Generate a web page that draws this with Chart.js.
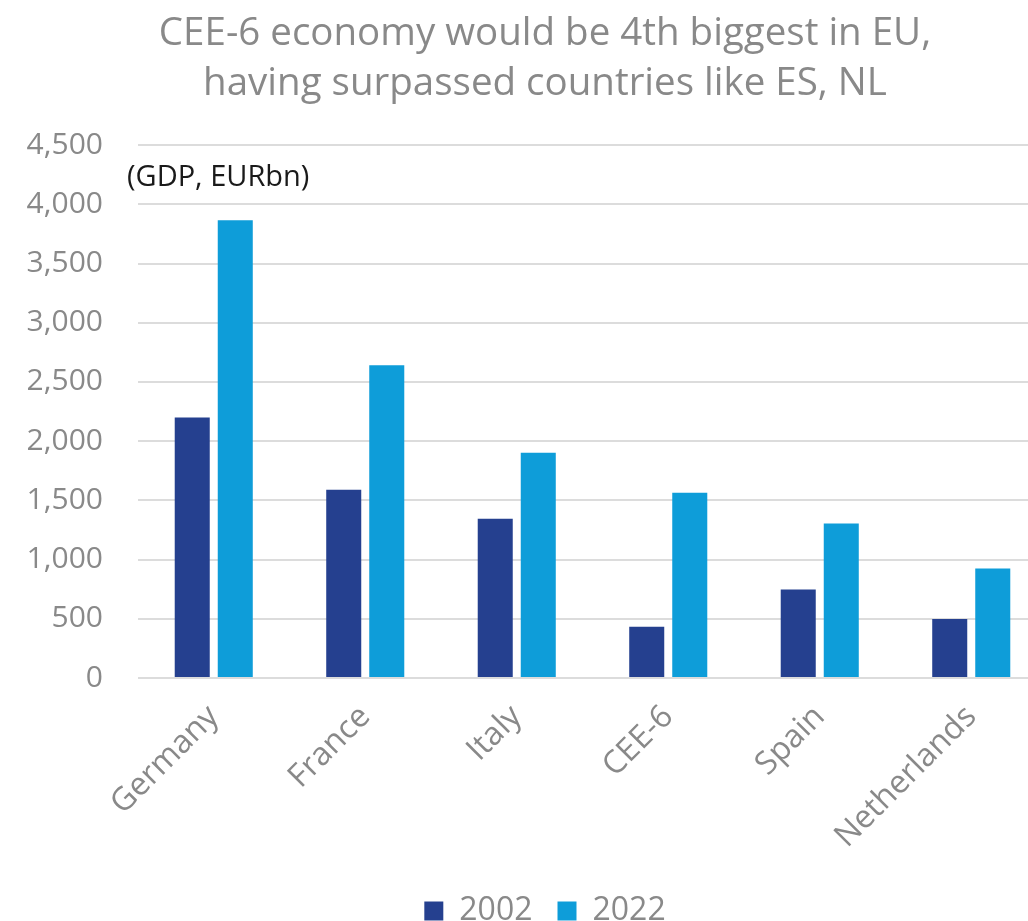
<!DOCTYPE html>
<html>
<head>
<meta charset="utf-8">
<script src="https://cdn.jsdelivr.net/npm/chart.js@4.4.1/dist/chart.umd.min.js"></script>
<style>
  html, body { margin: 0; padding: 0; overflow: hidden; background: #ffffff; }
  #wrap { width: 1090px; height: 937px; }
</style>
</head>
<body>
<div id="wrap"><canvas id="c" width="1090" height="937"></canvas></div>
<script>
// GDP by economy, EUR bn
const categories = ['Germany', 'France', 'Italy', 'CEE-6', 'Spain', 'Netherlands'];
const gdp2002 = [2200, 1590, 1345, 432, 747, 498];
const gdp2022 = [3865, 2640, 1903, 1565, 1304, 924];
const seriesLabels = ['2002', '2022'];
const yMin = 0;
const yMax = 4500;
const yStep = 500;
const titleLines = ['CEE-6 economy would be 4th biggest in EU,', 'having surpassed countries like ES, NL'];
const unitNote = '(GDP, EURbn)';

const GREY = '#898989';
const FONT = "'Open Sans', 'Noto Sans', sans-serif";
const PLOT_BOTTOM = 678;

const unitNotePlugin = {
  id: 'unitNote',
  afterDraw(chart) {
    const { ctx, chartArea } = chart;
    ctx.save();
    ctx.font = '29px ' + FONT;
    ctx.fillStyle = '#1a1a1a';
    ctx.textAlign = 'left';
    ctx.textBaseline = 'middle';
    ctx.fillText(unitNote, chartArea.left - 11, chartArea.top + 33);
    ctx.restore();
  }
};

new Chart(document.getElementById('c'), {
  type: 'bar',
  data: {
    labels: categories,
    datasets: [
      { label: seriesLabels[0], data: gdp2002, backgroundColor: '#25408f' },
      { label: seriesLabels[1], data: gdp2022, backgroundColor: '#0e9dd9' }
    ]
  },
  options: {
    responsive: false,
    devicePixelRatio: 1,
    animation: false,
    layout: { padding: 0 },
    datasets: { bar: { categoryPercentage: 0.568, barPercentage: 0.814 } },
    plugins: {
      title: {
        display: true,
        text: titleLines,
        color: GREY,
        font: { family: FONT, size: 38.5, weight: 'normal', lineHeight: 1.3 },
        padding: { top: 9, bottom: 36 }
      },
      legend: {
        position: 'bottom',
        labels: {
          color: GREY,
          font: { family: FONT, size: 32 },
          boxWidth: 19,
          boxHeight: 19,
          padding: 25
        }
      },
      tooltip: { enabled: false }
    },
    scales: {
      x: {
        afterFit(scale) {
          const lg = scale.chart.legend;
          const lh = lg ? lg.height : 0;
          scale.height = scale.chart.height - lh - PLOT_BOTTOM;
        },
        grid: { display: false },
        border: { display: false },
        ticks: {
          color: GREY,
          font: { family: FONT, size: 32 },
          minRotation: 45,
          maxRotation: 45,
          padding: 12
        }
      },
      y: {
        min: yMin,
        max: yMax,
        afterFit(scale) { scale.width = 138; },
        grid: { color: '#dcdcdc', lineWidth: 2, drawTicks: false },
        border: { display: false },
        ticks: {
          stepSize: yStep,
          color: GREY,
          font: { family: FONT, size: 30 },
          padding: 35,
          callback: (v) => v.toLocaleString('en-US')
        }
      },
      // empty right-hand gutter so the plot stops short of the canvas edge
      gutter: {
        position: 'right',
        min: 0,
        max: 1,
        afterFit(scale) { scale.width = 43; },
        grid: { display: false },
        border: { display: false },
        ticks: { display: false }
      }
    }
  },
  plugins: [unitNotePlugin]
});
</script>
</body>
</html>
